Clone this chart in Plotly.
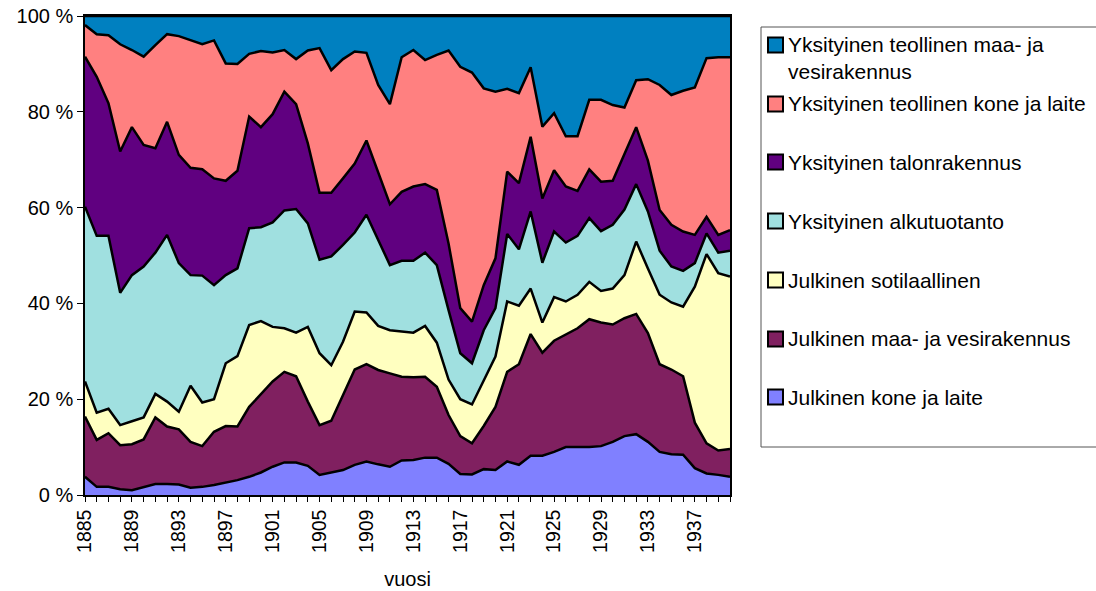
import plotly.graph_objects as go

years = list(range(1885, 1941))

# shares in percent (bottom to top)
julkinen_kone = [
    3.8, 1.7, 1.7, 1.2, 1.0, 1.7, 2.3, 2.3, 2.2, 1.5, 1.7, 2.1, 2.6, 3.1, 3.8, 4.7, 5.9, 6.8, 6.8, 6.1,
    4.2, 4.7, 5.2, 6.3, 7.0, 6.4, 5.9, 7.2, 7.3, 7.8, 7.8, 6.5, 4.4, 4.3, 5.4, 5.2, 7.0, 6.3, 8.2, 8.2,
    9.0, 10.0, 10.0, 10.0, 10.2, 11.1, 12.3, 12.7, 11.1, 9.0, 8.5, 8.4, 5.6, 4.5, 4.2, 3.8,
]
julkinen_maa_vesi = [
    12.6, 9.8, 11.2, 9.2, 9.6, 9.9, 13.9, 12.0, 11.5, 9.6, 8.5, 11.1, 11.8, 11.2, 14.6, 16.4, 17.8, 18.9, 18.0, 13.4,
    10.4, 10.8, 15.7, 19.9, 20.3, 19.7, 19.5, 17.5, 17.3, 16.9, 14.8, 10.2, 7.9, 6.5, 9.0, 13.2, 18.7, 21.0, 25.4, 21.5,
    23.2, 23.5, 24.8, 26.7, 25.8, 24.5, 24.6, 25.1, 22.7, 18.3, 17.7, 16.4, 9.5, 6.3, 5.1, 5.8,
]
julkinen_sotilaallinen = [
    7.3, 5.7, 5.1, 4.2, 4.8, 4.6, 4.9, 5.2, 3.7, 11.7, 9.1, 6.8, 13.1, 14.7, 17.1, 15.2, 11.4, 9.1, 9.1, 15.6,
    15.0, 11.6, 11.1, 12.1, 10.8, 9.2, 9.0, 9.4, 9.3, 10.6, 9.2, 7.4, 7.7, 8.1, 9.5, 10.5, 14.7, 12.2, 9.5, 6.3,
    9.1, 6.9, 7.0, 7.8, 6.6, 7.5, 9.0, 15.1, 13.5, 14.5, 14.0, 14.5, 28.4, 39.5, 37.0, 36.0,
]
yks_alkutuotanto = [
    36.5, 36.9, 36.1, 27.6, 30.5, 31.5, 29.5, 34.8, 31.0, 23.1, 26.5, 23.8, 18.4, 18.3, 20.2, 19.6, 21.8, 24.6, 25.8, 21.6,
    19.5, 22.7, 20.2, 16.5, 20.4, 17.9, 13.6, 14.8, 15.0, 15.3, 16.2, 14.5, 9.6, 8.6, 10.5, 10.1, 14.1, 11.8, 16.1, 12.5,
    13.7, 12.3, 12.3, 13.3, 12.5, 13.3, 13.7, 12.0, 11.9, 9.2, 7.5, 7.5, 4.9, 4.3, 4.3, 5.4,
]
yks_talonrakennus = [
    31.3, 33.2, 27.7, 29.5, 30.9, 25.4, 21.8, 23.6, 22.6, 22.4, 22.2, 22.3, 19.7, 20.4, 23.3, 20.9, 22.6, 24.8, 21.9, 16.7,
    14.0, 13.3, 13.9, 14.4, 15.5, 14.0, 12.7, 14.4, 15.5, 14.3, 15.7, 13.9, 9.4, 8.7, 9.4, 10.4, 13.0, 13.8, 15.6, 13.4,
    12.8, 11.7, 9.4, 10.2, 10.3, 9.2, 11.6, 11.9, 10.6, 8.5, 8.7, 8.2, 5.9, 3.5, 3.7, 4.3,
]
yks_teol_kone = [
    6.6, 8.9, 14.2, 22.4, 16.1, 18.4, 21.5, 18.3, 24.8, 26.7, 26.1, 28.8, 24.5, 22.3, 13.1, 15.9, 12.9, 8.7, 9.4, 19.4,
    30.2, 25.6, 24.9, 23.4, 18.3, 18.4, 20.9, 28.1, 28.5, 25.9, 28.2, 40.3, 50.4, 52.0, 41.1, 34.8, 17.3, 18.8, 14.5, 15.0,
    11.9, 10.5, 11.4, 14.5, 17.1, 15.8, 9.7, 9.8, 17.0, 26.1, 27.1, 29.4, 30.8, 33.1, 37.1, 36.1,
]
yks_teol_maa_vesi = [
    1.9, 3.8, 4.0, 5.9, 7.1, 8.5, 6.1, 3.8, 4.2, 5.0, 5.9, 5.1, 9.9, 10.0, 7.9, 7.3, 7.6, 7.1, 9.0, 7.2,
    6.7, 11.3, 9.0, 7.4, 7.7, 14.4, 18.4, 8.6, 7.1, 9.2, 8.1, 7.2, 10.6, 11.8, 15.1, 15.8, 15.2, 16.1, 10.7, 23.1,
    20.3, 25.1, 25.1, 17.5, 17.5, 18.6, 19.1, 13.4, 13.2, 14.4, 16.5, 15.6, 14.9, 8.8, 8.6, 8.6,
]

series = [
    ("Julkinen kone ja laite", julkinen_kone, "#8080FF"),
    ("Julkinen maa- ja vesirakennus", julkinen_maa_vesi, "#802060"),
    ("Julkinen sotilaallinen", julkinen_sotilaallinen, "#FFFFC0"),
    ("Yksityinen alkutuotanto", yks_alkutuotanto, "#A0E0E0"),
    ("Yksityinen talonrakennus", yks_talonrakennus, "#600080"),
    ("Yksityinen teollinen kone ja laite", yks_teol_kone, "#FF8080"),
    ("Yksityinen teollinen maa- ja<br>vesirakennus", yks_teol_maa_vesi, "#0080C0"),
]

FONT = "Liberation Sans, Arial, Helvetica, sans-serif"
W, H = 1096, 591

# plot area in pixels
PL, PR, PT, PB = 85, 730, 16, 495


def px(x):
    return (x - PL) / (PR - PL)


def py(y):
    return (PB - y) / (PB - PT)


fig = go.Figure()

for name, vals, color in series:
    fig.add_trace(go.Scatter(
        x=years, y=vals, name=name, stackgroup="one", groupnorm="percent",
        mode="lines", line=dict(color="black", width=2.5),
        fillcolor=color, showlegend=False,
    ))

# legend drawn by hand so the slots match the Excel-style box
shapes = [dict(
    type="rect", xref="paper", yref="paper",
    x0=px(761), x1=px(1110), y0=py(447), y1=py(27),
    line=dict(color="#555555", width=1), fillcolor="white", layer="above",
)]
annotations = []
slot_y = [45, 104, 162, 221, 280, 339, 397]
for (name, vals, color), yc in zip(reversed(series), slot_y):
    shapes.append(dict(
        type="rect", xref="paper", yref="paper",
        x0=px(768), x1=px(783), y0=py(yc + 7.5), y1=py(yc - 7.5),
        line=dict(color="black", width=2), fillcolor=color, layer="above",
    ))
    two_lines = "<br>" in name
    annotations.append(dict(
        text=name, xref="paper", yref="paper",
        x=px(786), y=py(yc + 13 if two_lines else yc),
        xanchor="left", yanchor="middle", align="left", showarrow=False,
        font=dict(family=FONT, size=21, color="black"),
    ))

fig.update_layout(
    width=W, height=H,
    paper_bgcolor="white", plot_bgcolor="white",
    font=dict(family=FONT, size=19.5, color="black"),
    margin=dict(l=PL, r=W - PR, t=PT, b=H - PB),
    showlegend=False,
    shapes=shapes,
    annotations=annotations,
    xaxis=dict(
        range=[1885, 1940], tick0=1885, dtick=4, tickangle=-90,
        ticks="outside", ticklen=5, tickcolor="black", automargin=False,
        minor=dict(dtick=1, ticks="outside", ticklen=5, tickcolor="black"),
        showline=True, linecolor="black", linewidth=1.5, mirror=True,
        showgrid=False, zeroline=False,
        title=dict(text="vuosi", standoff=20, font=dict(size=20)),
    ),
    yaxis=dict(
        range=[0, 100], dtick=20, ticksuffix=" %", automargin=False,
        ticks="outside", ticklen=6, tickcolor="black",
        showline=True, linecolor="black", linewidth=1.5, mirror=True,
        showgrid=False, zeroline=False,
        tickfont=dict(size=20),
    ),
)

# drop the browser's default 8px body margin so the figure fills the window
fig.write_html(
    "out.html",
    config={"displayModeBar": False},
    post_script="document.body.style.margin = '0';",
)
